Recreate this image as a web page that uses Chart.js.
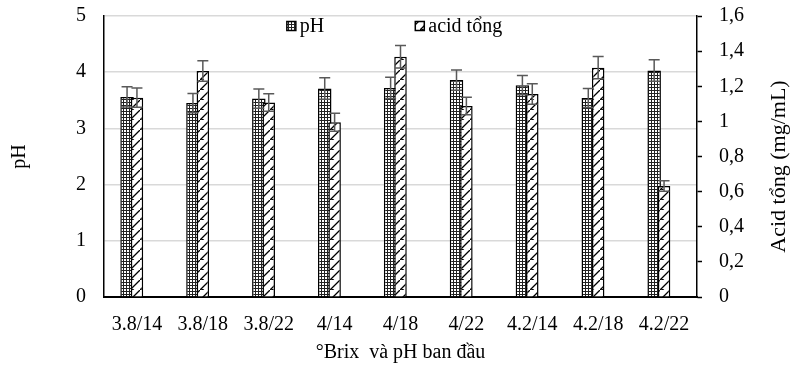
<!DOCTYPE html>
<html lang="vi">
<head>
  <meta charset="UTF-8" />
  <title>pH và acid tổng</title>
  <script src="https://cdn.jsdelivr.net/npm/chart.js"></script>
  <style>
    html, body { margin: 0; padding: 0; background: #fff; }
  </style>
</head>
<body>
  <canvas id="chartAcid" width="790" height="372"></canvas>

  <script>
    // values
    const categories = ['3.8/14', '3.8/18', '3.8/22', '4/14', '4/18', '4/22', '4.2/14', '4.2/18', '4.2/22'];
    const phValues   = [3.56, 3.45, 3.53, 3.71, 3.72, 3.86, 3.77, 3.54, 4.03];
    const phErrors   = [0.18, 0.17, 0.17, 0.19, 0.19, 0.18, 0.17, 0.17, 0.19];
    const acidValues = [1.135, 1.287, 1.107, 0.995, 1.368, 1.088, 1.156, 1.306, 0.632];
    const acidErrors = [0.055, 0.058, 0.050, 0.051, 0.064, 0.050, 0.058, 0.064, 0.030];
    const phTicks    = ['0', '1', '2', '3', '4', '5'];
    const acidTicks  = ['0', '0,2', '0,4', '0,6', '0,8', '1', '1,2', '1,4', '1,6'];
    const rightTitle = 'Acid tổng (mg/mL)';

    // pH bars sit a bit left of the category centre, acid bars on it (like Excel's overlap)
    const phShift = -0.15;

    const serif = "'Liberation Serif', 'Times New Roman', serif";
    Chart.defaults.font.family = serif;
    Chart.defaults.color = '#000';

    // fill patterns (dots for pH, dashed diagonals for acid)
    function makePattern(size, draw) {
      const c = document.createElement('canvas');
      c.width = size; c.height = size;
      const p = c.getContext('2d');
      p.fillStyle = '#fff';
      p.fillRect(0, 0, size, size);
      draw(p);
      return p.createPattern(c, 'repeat');
    }
    const ctx = document.getElementById('chartAcid').getContext('2d');
    const dotFill = makePattern(3, p => {
      p.fillStyle = '#222';
      p.fillRect(0, 0, 3, 1);
      p.fillRect(0, 0, 1, 3);
    });
    const diagFill = makePattern(10, p => {
      p.strokeStyle = '#000';
      p.lineWidth = 1.3;
      p.beginPath();
      p.moveTo(0, 10); p.lineTo(10, 0);
      p.moveTo(1, 9); p.lineTo(4, 10);
      p.stroke();
    });

    const seriesValues = [phValues, acidValues];
    const errorSets = [phErrors, acidErrors];

    const errorBars = {
      id: 'errorBars',
      afterDatasetsDraw(chart) {
        const c = chart.ctx;
        c.save();
        c.strokeStyle = '#595959';
        c.lineWidth = 1.5;
        chart.data.datasets.forEach((ds, i) => {
          const meta = chart.getDatasetMeta(i);
          const scale = chart.scales[ds.yAxisID];
          meta.data.forEach((bar, j) => {
            const v = seriesValues[i][j], e = errorSets[i][j];
            const yHi = scale.getPixelForValue(v + e);
            const yLo = scale.getPixelForValue(v - e);
            const cap = 5.5;
            c.beginPath();
            c.moveTo(bar.x, yHi); c.lineTo(bar.x, yLo);
            c.moveTo(bar.x - cap, yHi); c.lineTo(bar.x + cap, yHi);
            c.moveTo(bar.x - cap, yLo); c.lineTo(bar.x + cap, yLo);
            c.stroke();
          });
        });
        c.restore();
      }
    };

    // legend inside the plot near the top, and the right title read bottom-to-top
    const extras = {
      id: 'extras',
      afterDraw(chart) {
        const c = chart.ctx, area = chart.chartArea;
        c.save();
        c.font = '20px ' + serif;
        const box = 9, textGap = 4, itemGap = 91;
        const items = chart.data.datasets.map(ds => ({ ds, w: box + textGap + c.measureText(ds.label).width }));
        const total = items.reduce((s, it) => s + it.w, 0) + itemGap * (items.length - 1);
        let x = (area.left + area.right) / 2 - total / 2 - 6;
        const y = area.top + 10;
        items.forEach(it => {
          c.fillStyle = it.ds.backgroundColor;
          c.fillRect(x, y - box / 2, box, box);
          c.strokeStyle = '#000';
          c.lineWidth = 1.5;
          c.strokeRect(x, y - box / 2, box, box);
          c.fillStyle = '#000';
          c.textBaseline = 'middle';
          c.fillText(it.ds.label, x + box + textGap, y + 1);
          x += it.w + itemGap;
        });

        c.translate(chart.width - 11, (area.top + area.bottom) / 2 + 10);
        c.rotate(-Math.PI / 2);
        c.font = '22px ' + serif;
        c.textAlign = 'center';
        c.textBaseline = 'middle';
        c.fillText(rightTitle, 0, 0);
        c.restore();
      }
    };

    // fixed axis sizes so the plot box lands where the original has it
    function fixSize(size) {
      return scale => {
        if (scale.isHorizontal()) scale.height = size; else scale.width = size;
        scale.paddingTop = 0; scale.paddingBottom = 0;
        scale.paddingLeft = 0; scale.paddingRight = 0;
      };
    }

    new Chart(ctx, {
      type: 'bar',
      data: {
        labels: categories,
        datasets: [
          {
            label: 'pH',
            data: phValues.map((v, i) => ({ x: i + phShift, y: v })),
            xAxisID: 'xPh',
            yAxisID: 'y',
            order: 1,
            grouped: false,
            backgroundColor: dotFill,
            borderColor: '#000',
            borderWidth: 1.5,
            categoryPercentage: 1.0,
            barPercentage: 0.205
          },
          {
            label: 'acid tổng',
            data: acidValues,
            xAxisID: 'x',
            yAxisID: 'y1',
            order: 0,
            grouped: false,
            backgroundColor: diagFill,
            borderColor: '#000',
            borderWidth: 1.5,
            categoryPercentage: 1.0,
            barPercentage: 0.19
          }
        ]
      },
      options: {
        responsive: false,
        animation: false,
        layout: { padding: { top: 16, left: 0, right: 0, bottom: 0 } },
        plugins: {
          legend: { display: false },
          tooltip: { enabled: false }
        },
        scales: {
          x: {
            z: 1,
            grid: { display: false },
            border: { color: '#000', width: 2 },
            ticks: { font: { size: 20 }, padding: 8 },
            title: {
              display: true,
              text: '°Brix  và pH ban đầu',
              font: { size: 20 },
              padding: { top: 0, bottom: 7 }
            },
            afterFit: fixSize(75)
          },
          // invisible twin of the category axis, used to place the pH bars
          xPh: {
            type: 'linear',
            position: 'bottom',
            offset: false,
            min: -0.5,
            max: categories.length - 0.5,
            grid: { display: false, offset: false },
            border: { display: false },
            ticks: { display: false },
            afterBuildTicks(scale) { scale.ticks = categories.map((_, i) => ({ value: i })); },
            afterFit: fixSize(0)
          },
          y: {
            position: 'left',
            min: 0,
            max: 5,
            ticks: {
              stepSize: 1,
              font: { size: 20 },
              padding: 18,
              callback: (v, i) => phTicks[i]
            },
            grid: { color: '#d9d9d9', lineWidth: 1.5, drawTicks: false },
            border: { color: '#000', width: 1.5 },
            title: {
              display: true,
              text: 'pH',
              font: { size: 20 },
              padding: { top: 8, bottom: 0 }
            },
            afterFit: fixSize(104)
          },
          y1: {
            position: 'right',
            min: 0,
            max: 1.6,
            ticks: {
              stepSize: 0.2,
              font: { size: 20 },
              padding: 17,
              callback: (v, i) => acidTicks[i]
            },
            grid: { drawOnChartArea: false, drawTicks: true, tickLength: 5, tickColor: '#000', tickWidth: 1.5 },
            border: { color: '#000', width: 1.5 },
            afterFit: fixSize(93)
          }
        }
      },
      plugins: [errorBars, extras]
    });
  </script>
</body>
</html>
